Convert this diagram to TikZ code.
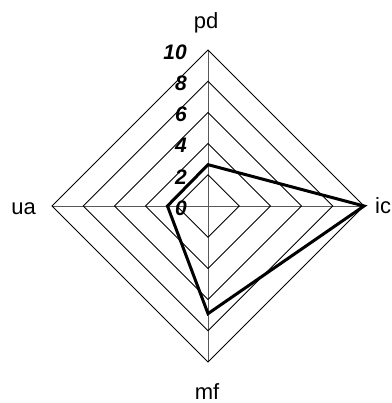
\documentclass[tikz,border=0pt]{standalone}
\usepackage{fontspec}
\setmainfont{Liberation Sans}
\usetikzlibrary{calc}

\begin{document}
\begin{tikzpicture}[x=1pt,y=-1pt,
    ring/.style={draw=black, line width=0.9pt},
    spoke/.style={draw=black!65, line width=1pt},
    ticklabel/.style={anchor=east, inner sep=0pt, font=\fontsize{21}{21}\selectfont\bfseries\itshape},
    axislabel/.style={inner sep=0pt, font=\fontsize{22}{22}\selectfont},
    profile/.style={draw=black, line width=3pt, line join=miter}]
    \useasboundingbox (0,0) rectangle (391,403);

    % centre and axis ends
    \coordinate (O) at (208,206);
    \coordinate (pdend) at (208,50);
    \coordinate (icend) at (364,206);
    \coordinate (mfend) at (208,362);
    \coordinate (uaend) at (52,206);

    % spokes
    \draw[spoke] (O) -- (pdend);
    \draw[spoke] (O) -- (icend);
    \draw[spoke] (O) -- (mfend);
    \draw[spoke] (O) -- (uaend);

    % rings and scale
    \foreach \r in {2,4,...,10} {
        \draw[ring] ($(O)+(0,-15.6*\r)$) -- ($(O)+(15.6*\r,0)$) -- ($(O)+(0,15.6*\r)$) -- ($(O)+(-15.6*\r,0)$) -- cycle;
    }
    \foreach \r in {0,2,...,10} {
        \node[ticklabel] (tick\r) at ($(O)+(-21,-15.6*\r+2)$) {\r};
    }

    % axis labels
    \node[axislabel, anchor=base] (pd) at (206,28.5) {pd};
    \node[axislabel, anchor=base west] (ic) at (375,213.5) {ic};
    \node[axislabel, anchor=base] (mf) at (207,399) {mf};
    \node[axislabel, anchor=base east] (ua) at (36,214.5) {ua};

    % data
    \coordinate (vpd) at ($(O)+(0,-15.6*2.65)$);
    \coordinate (vic) at ($(O)+(15.6*10,0)$);
    \coordinate (vmf) at ($(O)+(0,15.6*6.9)$);
    \coordinate (vua) at ($(O)+(-15.6*2.6,0)$);
    \draw[profile] (vpd) -- (vic) -- (vmf) -- (vua) -- cycle;
\end{tikzpicture}
\end{document}
